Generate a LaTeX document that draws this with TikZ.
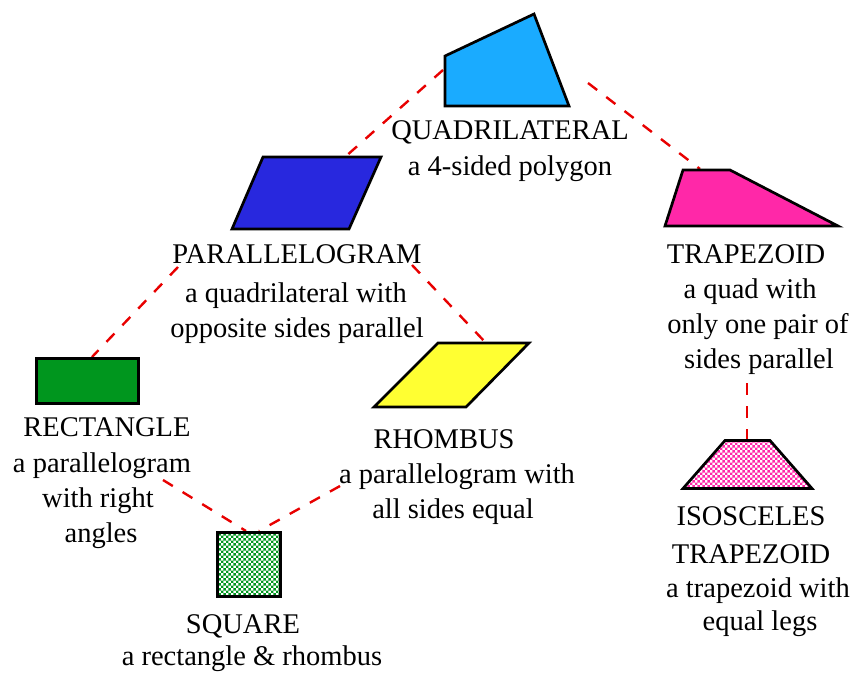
\documentclass[tikz,border=0pt]{standalone}
\usepackage{fontspec}
\setmainfont{Liberation Serif}
\usetikzlibrary{patterns}

\definecolor{quadblue}{RGB}{26,171,255}
\definecolor{parablue}{RGB}{40,40,222}
\definecolor{trappink}{RGB}{255,40,168}
\definecolor{rectgreen}{RGB}{0,150,30}
\definecolor{rhomyellow}{RGB}{255,255,50}
\definecolor{linkred}{RGB}{232,0,0}

% fine checkerboard with small cells
\pgfdeclarepatternformonly{finechecker}{\pgfpointorigin}{\pgfqpoint{5.4pt}{5.4pt}}{\pgfqpoint{5.4pt}{5.4pt}}{%
  \pgfpathrectangle{\pgfpointorigin}{\pgfqpoint{2.7pt}{2.7pt}}%
  \pgfpathrectangle{\pgfqpoint{2.7pt}{2.7pt}}{\pgfqpoint{2.7pt}{2.7pt}}%
  \pgfusepath{fill}}

\begin{document}
\begin{tikzpicture}[x=1pt,y=-1pt,
  edge/.style={draw=black, line width=2.7pt, line join=miter},
  link/.style={draw=linkred, line width=2.4pt, dash pattern=on 11.5pt off 11.5pt},
  lbl/.style={anchor=base, inner sep=0pt, font=\fontsize{28.5}{34}\selectfont}]
\useasboundingbox (0,0) rectangle (859,673);

% connector end points on the shapes and below the labels
\coordinate (quadL) at (443,70);
\coordinate (quadR) at (588,83);
\coordinate (paraT) at (345,157);
\coordinate (trapT) at (700,169);
\coordinate (paraLL) at (178,267);
\coordinate (paraLR) at (412,265);
\coordinate (rectT) at (92,357);
\coordinate (rhomT) at (486,343);
\coordinate (rectLB) at (163,480);
\coordinate (rhomLB) at (340,486);
\coordinate (sqTL) at (246,531);
\coordinate (sqTR) at (259,531);
\coordinate (trapLB) at (747,383);
\coordinate (isoT) at (747,440);

% dashed family links
\draw[link] (quadL) -- (paraT);
\draw[link] (quadR) -- (trapT);
\draw[link] (paraLL) -- (rectT);
\draw[link] (paraLR) -- (rhomT);
\draw[link] (rectLB) -- (sqTL);
\draw[link] (rhomLB) -- (sqTR);
\draw[link] (trapLB) -- (isoT);

% shapes
\draw[edge, fill=quadblue] (445,106) -- (445,56) -- (534,14) -- (569,106) -- cycle;
\draw[edge, fill=parablue] (263,157) -- (381,157) -- (349,229) -- (232,229) -- cycle;
\draw[edge, fill=trappink] (683,170) -- (730,170) -- (838,226) -- (665,226) -- cycle;
\draw[edge, line width=3pt, fill=rectgreen] (36.5,358.5) rectangle (138.5,403.5);
\draw[edge, fill=rhomyellow] (438,343) -- (529,343) -- (466,407) -- (374,407) -- cycle;
\draw[edge, line width=3pt, pattern=finechecker, pattern color=rectgreen] (217.5,532.5) rectangle (280.5,596.5);
\draw[edge, pattern=finechecker, pattern color=trappink] (725,440.5) -- (770,440.5) -- (812,488.5) -- (683,488.5) -- cycle;

% labels
\node[lbl] (quadA) at (510,139) {QUADRILATERAL};
\node[lbl] (quadB) at (510,175) {a 4-sided polygon};
\node[lbl] (paraA) at (297,263) {PARALLELOGRAM};
\node[lbl] (paraB) at (296,302) {a quadrilateral with};
\node[lbl] (paraC) at (297,337) {opposite sides parallel};
\node[lbl] (rectA) at (107,436) {RECTANGLE};
\node[lbl] (rectB) at (102,472) {a parallelogram};
\node[lbl] (rectC) at (98,507) {with right};
\node[lbl] (rectD) at (101,542) {angles};
\node[lbl] (rhomA) at (444,448) {RHOMBUS};
\node[lbl] (rhomB) at (457,483) {a parallelogram with};
\node[lbl] (rhomC) at (453,518) {all sides equal};
\node[lbl] (trapA) at (746,263) {TRAPEZOID};
\node[lbl] (trapB) at (750,298) {a quad with};
\node[lbl] (trapC) at (758,333) {only one pair of};
\node[lbl] (trapD) at (759,368) {sides parallel};
\node[lbl] (isoA) at (751,525) {ISOSCELES};
\node[lbl] (isoB) at (751,563) {TRAPEZOID};
\node[lbl] (isoC) at (758,597) {a trapezoid with};
\node[lbl] (isoD) at (760,630) {equal legs};
\node[lbl] (sqA) at (243,633) {SQUARE};
\node[lbl] (sqB) at (252,665) {a rectangle \& rhombus};
\end{tikzpicture}
\end{document}
